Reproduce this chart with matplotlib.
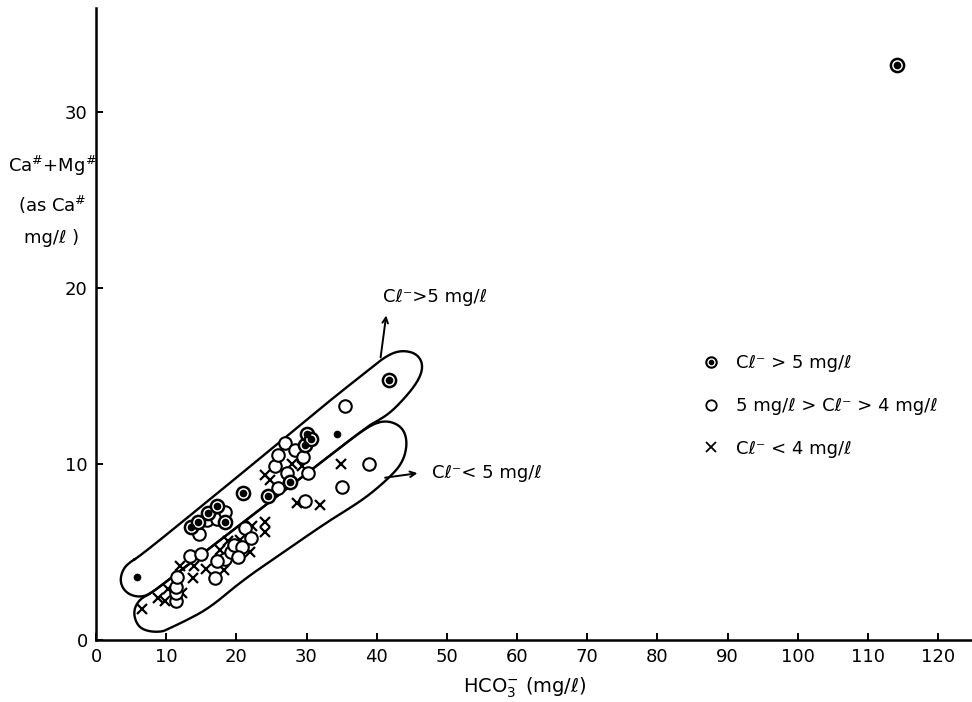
import numpy as np
import matplotlib.pyplot as plt
from matplotlib.lines import Line2D
from matplotlib.legend_handler import HandlerTuple

# HCO3- (mg/l) vs Ca+Mg as Ca (mg/l), grouped by chloride level
cl_high_x = [13.6, 14.5, 16.0, 17.2, 18.4, 20.9, 24.5, 27.6, 29.8, 30.0, 30.7, 41.8, 114.2]
cl_high_y = [6.4, 6.7, 7.2, 7.6, 6.7, 8.35, 8.2, 9.0, 11.1, 11.7, 11.4, 14.8, 32.7]

# single points drawn as plain dots
dot_x = [5.8, 34.4]
dot_y = [3.6, 11.7]

cl_mid_x = [11.4, 11.4, 11.4, 11.5, 13.4, 15.0, 14.7, 15.8, 17.2, 18.4,
            17.0, 18.4, 17.2, 19.3, 19.6, 20.8, 20.3, 21.2, 22.1,
            25.5, 26.0, 26.9, 28.3, 27.2, 29.5, 30.2, 26.0, 29.8, 35.5, 38.9, 35.0]
cl_mid_y = [2.2, 2.65, 3.0, 3.6, 4.8, 4.9, 6.0, 6.8, 6.9, 7.3,
            3.5, 4.6, 4.5, 5.0, 5.4, 5.3, 4.7, 6.35, 5.8,
            9.9, 10.5, 11.2, 10.8, 9.5, 10.4, 9.5, 8.65, 7.9, 13.3, 10.0, 8.7]

cl_low_x = [6.5, 8.9, 9.8, 10.3, 12.2, 12.0, 13.9, 13.8, 15.6, 18.2,
            17.7, 18.8, 20.5, 21.9, 22.2, 24.1, 24.1, 28.6, 31.9,
            24.1, 24.8, 27.9, 29.3, 34.9]
cl_low_y = [1.76, 2.4, 2.2, 2.9, 2.65, 4.2, 4.2, 3.5, 4.05, 3.95,
            5.1, 5.6, 5.7, 5.0, 6.5, 6.7, 6.15, 7.8, 7.7,
            9.4, 9.1, 10.0, 9.9, 10.0]

# hand-drawn envelopes around the two groups (outline vertices)
env_upper_x = [4.84, 6.27, 15.24, 26.2, 33.3, 38.7, 41.2, 43.2, 45.3, 46.4, 46.5, 45.7,
               44.0, 41.9, 39.9, 38.9, 30.0, 20.0, 12.0, 7.7, 6.27, 4.84, 3.85, 3.42, 3.85]
env_upper_y = [4.43, 4.77, 7.67, 11.25, 13.6, 15.3, 16.1, 16.45, 16.35, 15.9, 15.3, 14.6,
               13.75, 12.9, 12.4, 12.2, 9.46, 6.39, 3.93, 2.6, 2.44, 2.56, 2.9, 3.41, 4.03]

env_lower_x = [38.9, 41.45, 43.7, 44.4, 43.7, 41.45, 38.0, 33.3, 27.1, 20.9, 16.2, 12.4,
               10.5, 9.5, 7.7, 6.27, 5.56, 5.4, 5.84, 6.7, 7.7, 15.0, 25.0, 33.0]
env_lower_y = [12.2, 12.5, 12.1, 11.2, 10.06, 9.09, 7.95, 6.8, 5.1, 3.4, 1.82, 1.02,
               0.68, 0.47, 0.47, 0.68, 1.14, 1.65, 2.1, 2.44, 2.6, 4.85, 7.92, 10.38]


def smooth_closed(xs, ys, n=4):
    # Chaikin corner cutting on a closed polygon
    p = np.column_stack([xs, ys]).astype(float)
    for _ in range(n):
        q = np.roll(p, -1, axis=0)
        p = np.vstack([0.75 * p + 0.25 * q, 0.25 * p + 0.75 * q])
        p = p.reshape(2, -1, 2).transpose(1, 0, 2).reshape(-1, 2)
    p = np.vstack([p, p[:1]])
    return p[:, 0], p[:, 1]


plt.rcParams['font.family'] = ['DejaVu Sans']
fig = plt.figure(figsize=(9.72, 7.02), dpi=100)
ax = fig.add_axes([0.0988, 0.0883, 0.901, 0.900])

for ex, ey in [(env_upper_x, env_upper_y), (env_lower_x, env_lower_y)]:
    sx, sy = smooth_closed(ex, ey)
    ax.plot(sx, sy, color='black', lw=1.7, zorder=1)

ax.plot(cl_low_x, cl_low_y, 'x', color='black', ms=7, mew=1.6, zorder=2)
ax.plot(cl_mid_x, cl_mid_y, 'o', mfc='white', mec='black', ms=9, mew=1.5, zorder=3)
ax.plot(cl_high_x, cl_high_y, 'o', mfc='white', mec='black', ms=9.5, mew=1.8, zorder=4)
ax.plot(cl_high_x, cl_high_y, 'o', color='black', ms=4.5, zorder=5)
ax.plot(dot_x, dot_y, 'o', color='black', ms=4.5, zorder=5)

# labelled arrows pointing out of the two envelopes
ax.annotate('', xy=(41.4, 18.6), xytext=(40.5, 15.9),
            arrowprops=dict(arrowstyle='->', lw=1.4, color='black'))
ax.text(40.9, 19.5, 'Cℓ⁻>5 mg/ℓ', fontsize=13, ha='left', va='center')
ax.annotate('', xy=(46.2, 9.5), xytext=(40.8, 9.2),
            arrowprops=dict(arrowstyle='->', lw=1.4, color='black'))
ax.text(47.9, 9.5, 'Cℓ⁻< 5 mg/ℓ', fontsize=13, ha='left', va='center')

h_high = (Line2D([], [], ls='none', marker='o', mfc='white', mec='black', ms=7.5, mew=1.5),
          Line2D([], [], ls='none', marker='o', color='black', ms=3))
h_mid = Line2D([], [], ls='none', marker='o', mfc='white', mec='black', ms=7.5, mew=1.3)
h_low = Line2D([], [], ls='none', marker='x', color='black', ms=6.5, mew=1.3)
ax.legend([h_high, h_mid, h_low],
          ['Cℓ⁻ > 5 mg/ℓ', '5 mg/ℓ > Cℓ⁻ > 4 mg/ℓ', 'Cℓ⁻ < 4 mg/ℓ'],
          handler_map={tuple: HandlerTuple(ndivide=1, pad=0)},
          loc='upper left', bbox_to_anchor=(0.705, 0.519), bbox_transform=fig.transFigure,
          frameon=False, fontsize=13, handlelength=1.0, handletextpad=0.9,
          labelspacing=1.38)

ax.set_xlim(0, 124.8)
ax.set_ylim(0, 35.9)
ax.set_xticks(np.arange(0, 121, 10))
ax.set_yticks([0, 10, 20, 30])
ax.tick_params(direction='in', length=5, width=1.4, labelsize=13, pad=6)
for side in ['top', 'right']:
    ax.spines[side].set_visible(False)
for side in ['left', 'bottom']:
    ax.spines[side].set_linewidth(1.8)

fig.text(525 / 972, 1 - 688 / 702, 'HCO$_3^{-}$ (mg/ℓ)', fontsize=14, ha='center', va='center')
fig.text(52 / 972, 1 - 200 / 702, 'Ca$^{\\#}$+Mg$^{\\#}$\n(as Ca$^{\\#}$\nmg/ℓ )',
         fontsize=13, ha='center', va='center', linespacing=1.9)

fig.savefig('out.png', dpi=100)
